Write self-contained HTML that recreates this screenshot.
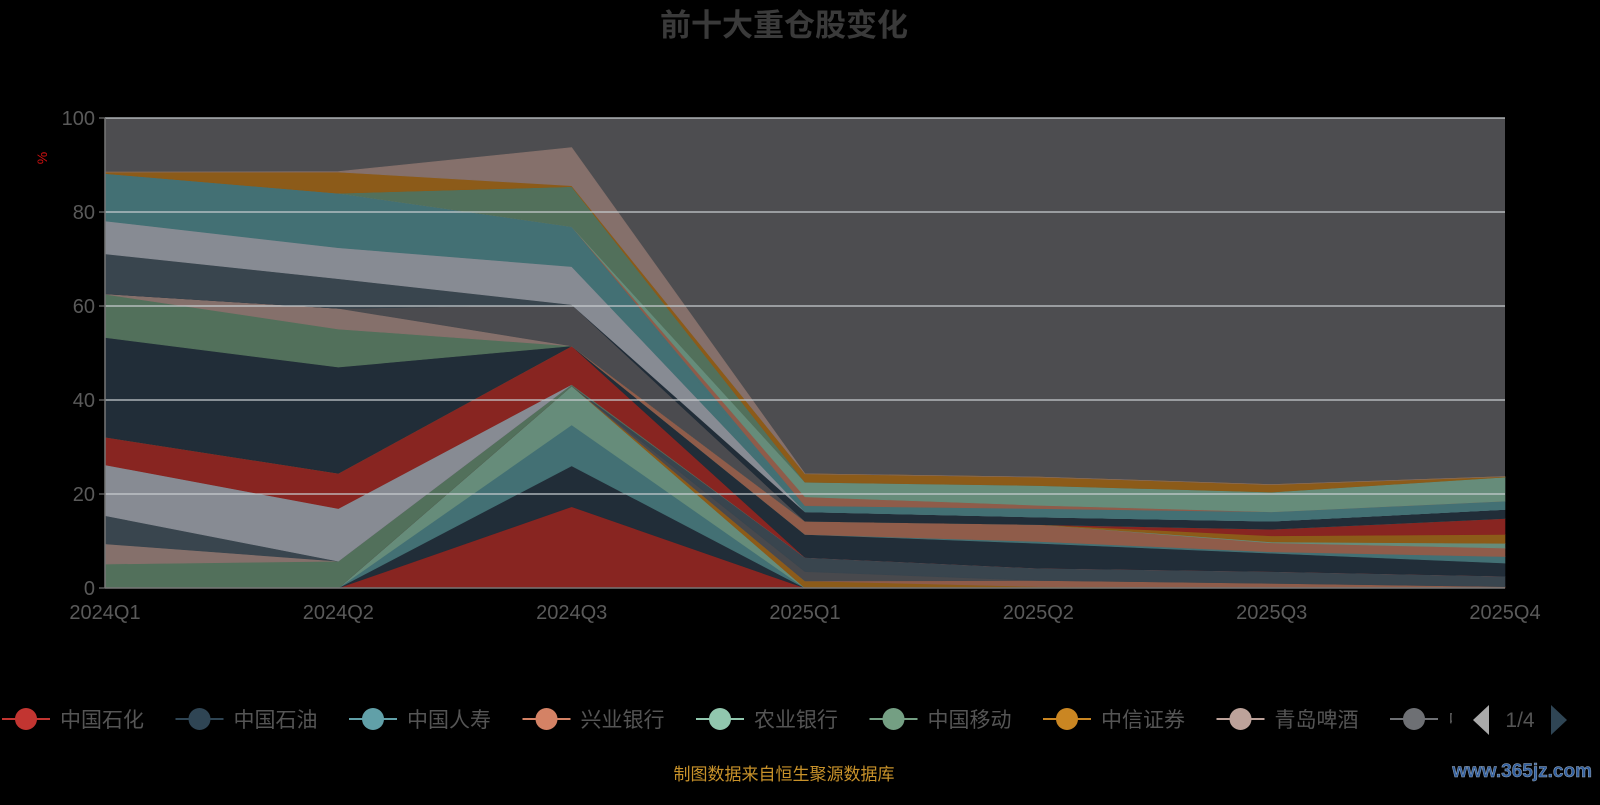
<!DOCTYPE html>
<html><head><meta charset="utf-8">
<style>
html,body{margin:0;padding:0;background:#000;}
body{width:1600px;height:800px;overflow:hidden;font-family:"Liberation Sans","Noto Sans CJK SC",sans-serif;}
svg text{font-family:"Liberation Sans","Noto Sans CJK SC",sans-serif;}
</style></head>
<body>
<svg id="chart" width="1600" height="800">
<text x="784" y="36" text-anchor="middle" font-size="31" font-weight="bold" fill="#3a3a3a">前十大重仓股变化</text>
<text x="0" y="0" transform="translate(47,158) rotate(-90)" text-anchor="middle" font-size="14" fill="#d01010">%</text>
<rect x="105" y="118" width="1400" height="470" fill="#4d4d50"/>
<g id="areas"></g>
<g id="grid"></g>
<g id="axes"></g>
<g id="legend"></g>
<text x="784" y="780" text-anchor="middle" font-size="17" fill="#c8922a">制图数据来自恒生聚源数据库</text>
<text x="1592" y="777" text-anchor="end" font-size="19" font-weight="bold" fill="#2f5d9e" stroke="#9ab" stroke-width="0.5" font-family="Liberation Serif">www.365jz.com</text>
</svg>
<script>
const categories = ["2024Q1","2024Q2","2024Q3","2025Q1","2025Q2","2025Q3","2025Q4"];
const yTicks = [0,20,40,60,80,100];
// series values, bottom to top
const sA = [0,0,17.3,0,0,0,0];
const sB = [0,0,8.7,0,0,0,0];
const sC = [0,0,8.7,0,0,0,0];
const sD = [0,0,8.3,0,0,0,0];
const n1 = [0,0,0,1.5,0.3,0,0];
const n2 = [0,0,0,0,1.3,1.0,0.3];
const n3 = [0,0,0,2.0,0,0,0];
const n4 = [0,0,0,3.0,2.6,2.5,2.2];
const sE = [5.1,5.7,0.3,0,0,0,0];
const sF = [4.3,0,0,0,0,0,0];
const sG = [6.0,0,0,0,0,0,0];
const sH = [10.8,11.2,0,0,0,0,0];
const sI = [5.9,7.5,8.2,0,0,0,0];
const n5 = [0,0,0,4.9,5.3,3.9,2.8];
const n6 = [0,0,0,0,0.4,0.3,1.4];
const n7 = [0,0,0,2.8,3.6,1.9,1.8];
const n8 = [0,0,0,0,0,0.2,1.0];
const n9 = [0,0,0,0,0,1.3,1.9];
const n10 = [0,0,0,0,0,1.4,3.4];
const sJ = [21.2,22.6,0,0,0,0,0];
const sK = [9.2,8.1,0,0,0,0,0];
const sL = [0.1,4.4,0,0,0,0,0];
const sM = [0,0,8.8,0,0,0,0];
const n11 = [0,0,0,2.0,1.6,1.7,1.9];
const sN = [8.5,6.3,0,0,0,0,0];
const sO = [7.0,6.6,8.1,0,0,0,0];
const sP = [10.1,11.6,8.5,0,0,0,0];
const n12 = [0,0,0,1.3,1.8,2.0,1.8];
const n13 = [0,0,0,1.9,0.7,0,0];
const n14 = [0,0,0,3.1,4.2,4.2,5.1];
const sQ = [0,0,8.5,0,0,0,0];
const n15 = [0,0,0,1.8,1.8,1.6,0.1];
const sR = [0.3,4.5,0.2,0,0,0,0];
const sS = [0,0.1,8.1,0,0,0,0];
const legendNames = ["中国石化","中国石油","中国人寿","兴业银行","农业银行","中国移动","中信证券","青岛啤酒","中"];
const legendColors = ["#c23531","#2f4554","#61a0a8","#d48265","#91c7ae","#749f83","#ca8622","#bda29a","#6e7074"];

const RED="#882521",NAVY="#212d38",TEAL="#437074",LGREEN="#668c7a",GREEN="#52705b",PINK="#85706b",SLATE="#39454e",GRAY="#878b93",ORANGE="#8c5b19",SALMON="#8f5c4a",BGS="#4b4b4f",DGRAY="#48494d";
const series = [
 [sA,RED],[sB,NAVY],[sC,TEAL],[sD,LGREEN],[n1,ORANGE],[n2,SALMON],[n3,DGRAY],[n4,SLATE],
 [sE,GREEN],[sF,PINK],[sG,SLATE],[sH,GRAY],[sI,RED],[n5,NAVY],[n6,TEAL],[n7,SALMON],[n8,LGREEN],[n9,ORANGE],[n10,RED],
 [sJ,NAVY],[sK,GREEN],[sL,PINK],[sM,BGS],[n11,NAVY],[sN,SLATE],[sO,GRAY],[sP,TEAL],[n12,TEAL],[n13,SALMON],[n14,LGREEN],[sQ,GREEN],[n15,ORANGE],[sR,ORANGE],[sS,PINK]
];
const NS="http://www.w3.org/2000/svg";
const X0=105,X1=1505,Y0=588,Y1=118;
function xs(i){return X0+(X1-X0)*i/(categories.length-1);}
function ys(v){return Y0-(Y0-Y1)*v/100;}
function mk(tag,attrs,parent){const e=document.createElementNS(NS,tag);for(const k in attrs)e.setAttribute(k,attrs[k]);parent.appendChild(e);return e;}
const areas=document.getElementById('areas');
let base=categories.map(()=>0);
series.forEach((s,si)=>{
  const vals=s[0];
  const top=base.map((b,i)=>b+vals[i]);
  let d="M"+top.map((v,i)=>xs(i)+","+ys(v)).join(" L");
  for(let i=categories.length-1;i>=0;i--) d+=" L"+xs(i)+","+ys(base[i]);
  d+=" Z";
  const p=mk('path',{d:d,fill:s[1],stroke:s[1],'stroke-width':0.6},areas);
  
  
  base=top;
});
const grid=document.getElementById('grid'),axes=document.getElementById('axes');
yTicks.forEach(t=>{
  const y=ys(t);
  if(t>0){const l=mk('line',{x1:X0,x2:X1,y1:y,y2:y,stroke:"#c8cdd0","stroke-width":1.3},grid);
  
  }
  const tk=mk('line',{x1:X0-6,x2:X0,y1:y,y2:y,stroke:"#888"},axes);
  
  
  const tx=mk('text',{x:X0-10,y:y+7,'text-anchor':'end','font-size':20,fill:'#5a5a5a'},axes);
  tx.textContent=t;
  
  
});
const ax=mk('line',{x1:X0,x2:X1,y1:Y0,y2:Y0,stroke:"#777","stroke-width":1.5},axes);


const ay=mk('line',{x1:X0,x2:X0,y1:Y1,y2:Y0,stroke:"#777","stroke-width":1.5},axes);


categories.forEach((c,i)=>{
  const tx=mk('text',{x:xs(i),y:619,'text-anchor':'middle','font-size':20,fill:'#5a5a5a'},axes);
  tx.textContent=c;
  
  
});
const lg=document.getElementById('legend');
legendNames.forEach((n,i)=>{
  const x0=2+i*173.5, y=719;
  const g=mk('g',{},lg);
  
  
  mk('line',{x1:x0,x2:x0+48,y1:y,y2:y,stroke:legendColors[i],'stroke-width':2},g);
  mk('circle',{cx:x0+24,cy:y,r:11,fill:legendColors[i]},g);
  const t=mk('text',{x:x0+58,y:y+8,'font-size':21,fill:'#555'},g);
  t.textContent=n;
});
const cover=mk('rect',{x:1452,y:700,width:20,height:40,fill:'#000'},lg);


const prev=mk('path',{d:"M1489,705 L1473,720 L1489,735 Z",fill:'#aaa'},lg);


const pg=mk('text',{x:1520,y:727,'text-anchor':'middle','font-size':21,fill:'#555'},lg);
pg.textContent="1/4";


const next=mk('path',{d:"M1551,705 L1567,720 L1551,735 Z",fill:'#2f4554'},lg);


</script>
</body></html>
